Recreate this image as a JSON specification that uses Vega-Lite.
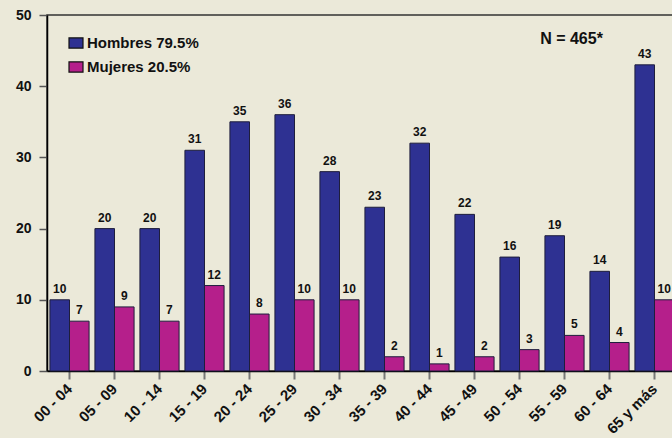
{
  "$schema": "https://vega.github.io/schema/vega-lite/v6.json",
  "width": 630,
  "height": 356,
  "autosize": {"type": "none"},
  "padding": {"left": 47, "top": 15, "right": 0, "bottom": 67},
  "background": "#ebe9d9",
  "config": {
    "font": "Liberation Sans",
    "view": {"stroke": "#333333", "strokeWidth": 1.5}
  },
  "datasets": {
    "bars": [
      {"grupo": "00 - 04", "sexo": "Hombres 79.5%", "casos": 10},
      {"grupo": "05 - 09", "sexo": "Hombres 79.5%", "casos": 20},
      {"grupo": "10 - 14", "sexo": "Hombres 79.5%", "casos": 20},
      {"grupo": "15 - 19", "sexo": "Hombres 79.5%", "casos": 31},
      {"grupo": "20 - 24", "sexo": "Hombres 79.5%", "casos": 35},
      {"grupo": "25 - 29", "sexo": "Hombres 79.5%", "casos": 36},
      {"grupo": "30 - 34", "sexo": "Hombres 79.5%", "casos": 28},
      {"grupo": "35 - 39", "sexo": "Hombres 79.5%", "casos": 23},
      {"grupo": "40 - 44", "sexo": "Hombres 79.5%", "casos": 32},
      {"grupo": "45 - 49", "sexo": "Hombres 79.5%", "casos": 22},
      {"grupo": "50 - 54", "sexo": "Hombres 79.5%", "casos": 16},
      {"grupo": "55 - 59", "sexo": "Hombres 79.5%", "casos": 19},
      {"grupo": "60 - 64", "sexo": "Hombres 79.5%", "casos": 14},
      {"grupo": "65 y más", "sexo": "Hombres 79.5%", "casos": 43},
      {"grupo": "00 - 04", "sexo": "Mujeres 20.5%", "casos": 7},
      {"grupo": "05 - 09", "sexo": "Mujeres 20.5%", "casos": 9},
      {"grupo": "10 - 14", "sexo": "Mujeres 20.5%", "casos": 7},
      {"grupo": "15 - 19", "sexo": "Mujeres 20.5%", "casos": 12},
      {"grupo": "20 - 24", "sexo": "Mujeres 20.5%", "casos": 8},
      {"grupo": "25 - 29", "sexo": "Mujeres 20.5%", "casos": 10},
      {"grupo": "30 - 34", "sexo": "Mujeres 20.5%", "casos": 10},
      {"grupo": "35 - 39", "sexo": "Mujeres 20.5%", "casos": 2},
      {"grupo": "40 - 44", "sexo": "Mujeres 20.5%", "casos": 1},
      {"grupo": "45 - 49", "sexo": "Mujeres 20.5%", "casos": 2},
      {"grupo": "50 - 54", "sexo": "Mujeres 20.5%", "casos": 3},
      {"grupo": "55 - 59", "sexo": "Mujeres 20.5%", "casos": 5},
      {"grupo": "60 - 64", "sexo": "Mujeres 20.5%", "casos": 4},
      {"grupo": "65 y más", "sexo": "Mujeres 20.5%", "casos": 10}
    ],
    "note": [{"grupo": "55 - 59", "casos": 46.6, "texto": "N = 465*"}]
  },
  "layer": [
    {
      "data": {"name": "bars"},
      "mark": {"type": "bar", "stroke": "#1e1e3c", "strokeWidth": 1},
      "encoding": {
        "x": {
          "field": "grupo", "type": "nominal", "sort": null,
          "scale": {"paddingInner": 0.13, "paddingOuter": 0.065},
          "axis": {
            "title": null, "labelAngle": -45, "labelAlign": "right", "labelBaseline": "middle",
            "labelFont": "Liberation Sans", "labelFontSize": 15, "labelFontWeight": "bold", "labelColor": "#111111",
            "labelPadding": 7, "tickSize": 8, "tickColor": "#777777", "tickWidth": 2,
            "domainColor": "#000000", "domainWidth": 1.5
          }
        },
        "xOffset": {"field": "sexo", "type": "nominal", "scale": {"paddingInner": 0, "paddingOuter": 0}},
        "y": {
          "field": "casos", "type": "quantitative",
          "scale": {"domain": [0, 50], "nice": false},
          "axis": {
            "title": null, "values": [0, 10, 20, 30, 40, 50], "grid": false,
            "labelFont": "Liberation Sans", "labelFontSize": 14, "labelFontWeight": "bold", "labelColor": "#111111",
            "labelPadding": 8, "tickSize": 8, "tickColor": "#555555", "tickWidth": 1.5,
            "domainColor": "#000000", "domainWidth": 1.5
          }
        },
        "color": {
          "field": "sexo", "type": "nominal",
          "scale": {"domain": ["Hombres 79.5%", "Mujeres 20.5%"], "range": ["#2e3192", "#b51f8b"]},
          "legend": {
            "title": null, "orient": "none", "legendX": 21, "legendY": 20,
            "symbolType": "M-1,-0.72L1,-0.72L1,0.72L-1,0.72Z", "symbolSize": 196,
            "symbolStrokeColor": "#111111", "symbolStrokeWidth": 1.2,
            "labelFont": "Liberation Sans", "labelFontSize": 15, "labelFontWeight": "bold", "labelColor": "#111111",
            "labelOffset": 3, "rowPadding": 8
          }
        }
      }
    },
    {
      "data": {"name": "bars"},
      "mark": {"type": "text", "dy": -11, "fontSize": 12, "fontWeight": "bold", "font": "Liberation Sans", "color": "#111111"},
      "encoding": {
        "x": {"field": "grupo", "type": "nominal", "sort": null},
        "xOffset": {"field": "sexo", "type": "nominal"},
        "y": {"field": "casos", "type": "quantitative"},
        "text": {"field": "casos", "type": "quantitative"}
      }
    },
    {
      "data": {"name": "note"},
      "mark": {"type": "text", "dx": 7, "fontSize": 16, "fontWeight": "bold", "font": "Liberation Sans", "color": "#111111"},
      "encoding": {
        "x": {"field": "grupo", "type": "nominal", "sort": null},
        "y": {"field": "casos", "type": "quantitative"},
        "text": {"field": "texto", "type": "nominal"}
      }
    }
  ]
}
